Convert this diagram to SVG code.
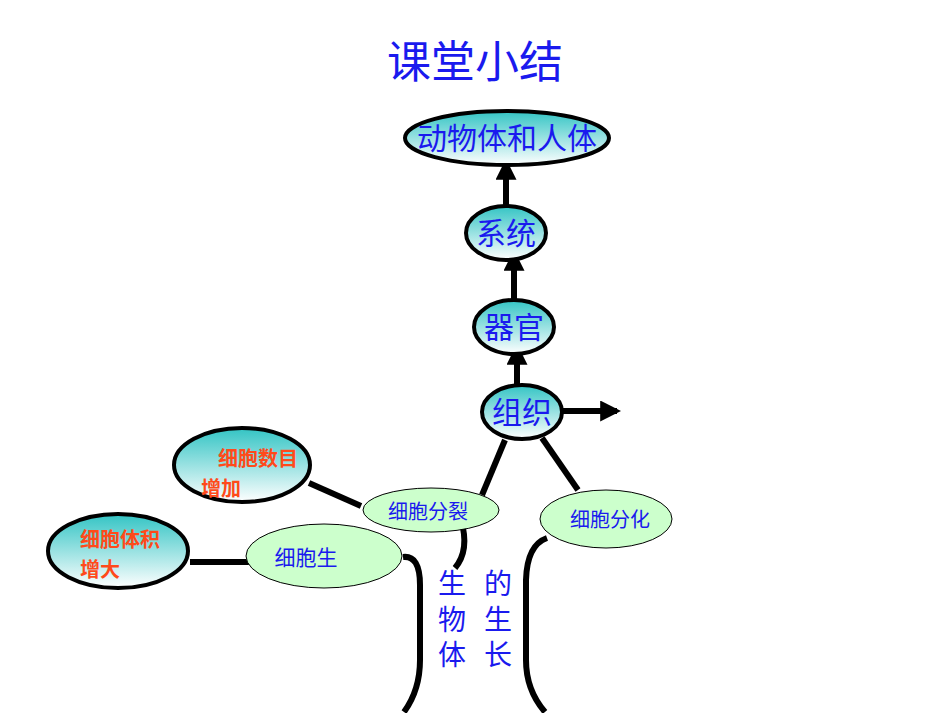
<svg xmlns="http://www.w3.org/2000/svg" width="950" height="713" viewBox="0 0 950 713">
<style>
.b{fill:url(#g);stroke:#000;stroke-width:4}
.l{fill:#ccffcc;stroke:#000;stroke-width:1}
.t{font-family:"Liberation Sans","Noto Sans CJK SC",sans-serif;fill:#1a1aee;text-anchor:middle}
.o{font-family:"Liberation Sans","Noto Sans CJK SC",sans-serif;fill:#ff4a1a;font-weight:bold;font-size:20px}
.c{stroke:#000;stroke-width:6;fill:none}
</style>
<defs>
<linearGradient id="g" x1="0" y1="0" x2="0" y2="1"><stop offset="0" stop-color="#33c4c4"/><stop offset="1" stop-color="#ffffff"/></linearGradient>
<marker id="a" viewBox="0 0 10 10" refX="8" refY="5" markerWidth="3.5" markerHeight="3.5" orient="auto"><path d="M0,0L10,5L0,10z" fill="#000"/></marker>
</defs>
<text x="475" y="78" class="t" font-size="44">课堂小结</text>
<g id="connectors">
<line x1="506" y1="205" x2="506" y2="163" class="c" marker-end="url(#a)"/>
<line x1="514" y1="300" x2="514" y2="254" class="c" marker-end="url(#a)"/>
<line x1="517" y1="385" x2="517" y2="348" class="c" marker-end="url(#a)"/>
<line x1="562" y1="411" x2="617" y2="411" class="c" marker-end="url(#a)"/>
<line x1="309" y1="483" x2="361" y2="506" class="c"/>
<line x1="190" y1="562" x2="250" y2="562" class="c"/>
<line x1="482" y1="495" x2="505" y2="440" class="c"/>
<line x1="578" y1="490" x2="542" y2="438" class="c"/>
<path d="M461,520 Q470,550 455,568" class="c"/>
<path d="M403,557 Q420,555 420,585 L420,660 Q420,690 404,712" class="c"/>
<path d="M547,538 Q527,545 526,580 L526,660 Q526,690 545,712" class="c"/>
</g>
<g id="n1"><ellipse cx="507" cy="138" rx="102" ry="27" class="b"/><text x="507" y="149" class="t" font-size="30">动物体和人体</text></g>
<g id="n2"><ellipse cx="506" cy="233" rx="40" ry="27" class="b"/><text x="506" y="244" class="t" font-size="30">系统</text></g>
<g id="n3"><ellipse cx="514" cy="327" rx="40" ry="27" class="b"/><text x="514" y="338" class="t" font-size="30">器官</text></g>
<g id="n4"><ellipse cx="522" cy="412" rx="40" ry="27" class="b"/><text x="522" y="423" class="t" font-size="30">组织</text></g>
<g id="n5"><ellipse cx="242" cy="465" rx="68" ry="37" class="b"/><text x="218" y="466" class="o">细胞数目</text><text x="201" y="496" class="o">增加</text></g>
<g id="n6"><ellipse cx="118" cy="551" rx="70" ry="37" class="b"/><text x="80" y="547" class="o">细胞体积</text><text x="80" y="577" class="o">增大</text></g>
<g id="n7"><ellipse cx="431" cy="510" rx="68" ry="22" class="l"/><text x="428" y="519" class="t" font-size="20">细胞分裂</text></g>
<g id="n8"><ellipse cx="606" cy="519" rx="66" ry="29" class="l"/><text x="610" y="527" class="t" font-size="20">细胞分化</text></g>
<g id="n9"><ellipse cx="324" cy="556" rx="78" ry="32" class="l"/><text x="306" y="565" class="t" font-size="21">细胞生</text></g>
<g id="label"><text class="t" font-size="28"><tspan x="452" y="594">生</tspan><tspan x="452" y="630">物</tspan><tspan x="452" y="665">体</tspan><tspan x="498" y="594">的</tspan><tspan x="498" y="630">生</tspan><tspan x="498" y="665">长</tspan></text></g>
</svg>
